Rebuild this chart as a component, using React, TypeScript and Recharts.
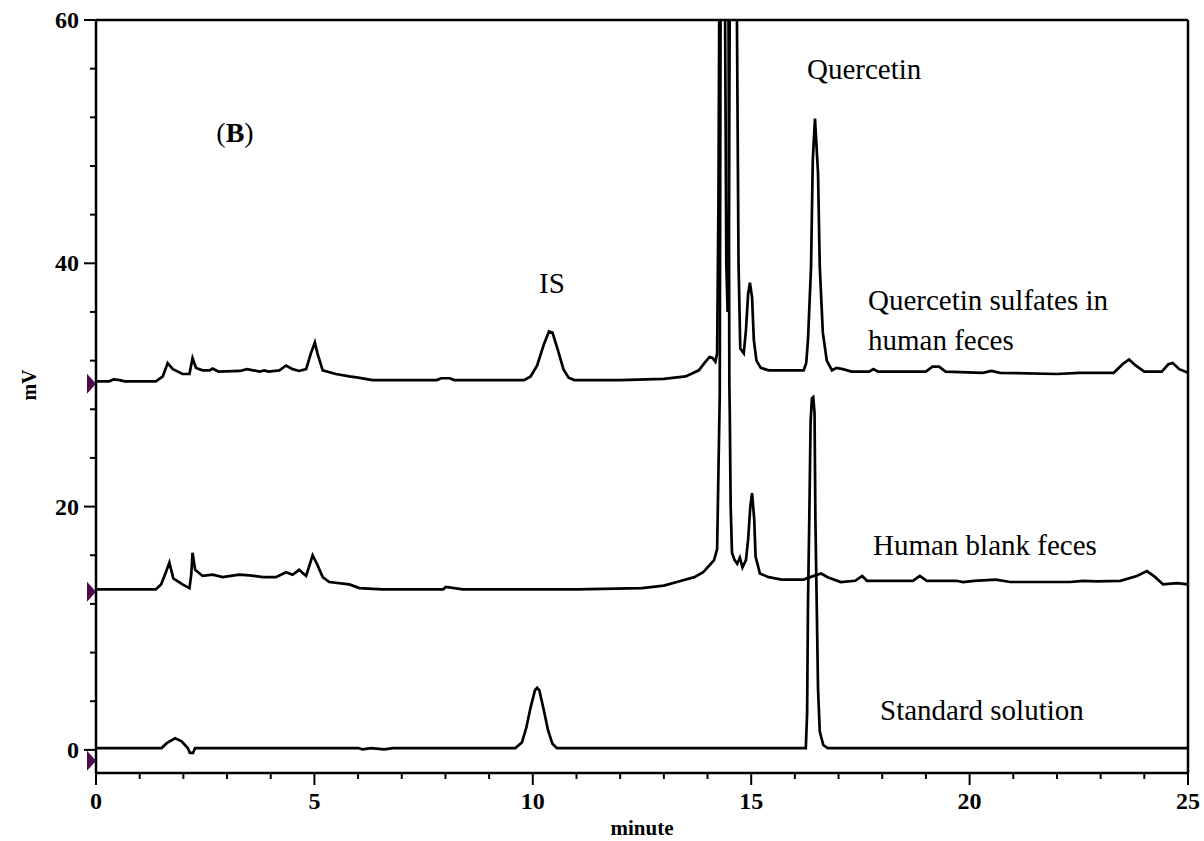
import React from "react";
import { LineChart, Line, XAxis, YAxis, ReferenceLine, ReferenceDot } from "recharts";

// Chromatogram traces, [retention time (min), signal (mV)]
const sulfateTrace: [number, number][] = [
  [0, 30.3], [0.3, 30.3], [0.4, 30.45], [0.55, 30.4], [0.65, 30.3], [1.37, 30.3], [1.53, 30.7],
  [1.64, 31.8], [1.76, 31.3], [1.98, 30.9], [2.14, 30.9], [2.21, 32.2], [2.29, 31.4], [2.44, 31.2],
  [2.6, 31.2], [2.67, 31.35], [2.8, 31.1], [3.3, 31.15], [3.45, 31.3], [3.6, 31.2], [3.75, 31.1],
  [3.85, 31.2], [3.95, 31.1], [4.2, 31.2], [4.35, 31.6], [4.5, 31.3], [4.65, 31.15], [4.81, 31.3],
  [4.92, 32.6], [5.01, 33.5], [5.07, 32.6], [5.19, 31.2], [5.49, 30.9], [5.8, 30.7], [6.0, 30.6],
  [6.33, 30.4], [7.8, 30.4], [7.9, 30.55], [8.1, 30.55], [8.2, 30.4], [9.8, 30.4], [9.95, 30.7],
  [10.1, 31.6], [10.25, 33.3], [10.37, 34.4], [10.45, 34.3], [10.58, 32.8], [10.7, 31.3],
  [10.82, 30.6], [10.95, 30.4], [12.0, 30.4], [13.0, 30.5], [13.5, 30.7], [13.8, 31.2],
  [13.95, 31.9], [14.05, 32.3], [14.12, 32.2], [14.18, 31.9], [14.22, 32.6], [14.25, 45],
  [14.27, 62], [14.4, 62], [14.43, 40], [14.46, 36], [14.49, 45], [14.51, 62], [14.67, 62],
  [14.71, 40], [14.75, 33], [14.83, 32.6], [14.88, 34.5], [14.93, 37.5], [14.97, 38.4],
  [15.02, 37.2], [15.06, 33.7], [15.12, 32.0], [15.22, 31.4], [15.4, 31.2], [16.2, 31.2],
  [16.26, 31.8], [16.3, 33.7], [16.37, 39.7], [16.41, 48.5], [16.46, 51.9], [16.53, 47.4],
  [16.57, 39.7], [16.64, 34.3], [16.73, 32.0], [16.85, 31.2], [16.95, 31.4], [17.1, 31.3],
  [17.3, 31.1], [17.7, 31.1], [17.8, 31.3], [17.9, 31.1], [19.0, 31.1], [19.15, 31.5],
  [19.3, 31.5], [19.45, 31.1], [20.3, 31.0], [20.5, 31.15], [20.7, 31.0], [22.0, 30.9],
  [22.5, 31.0], [23.3, 31.0], [23.5, 31.7], [23.65, 32.1], [23.8, 31.6], [24.0, 31.1],
  [24.4, 31.1], [24.55, 31.7], [24.65, 31.8], [24.8, 31.3], [25.0, 31.0],
];

const blankTrace: [number, number][] = [
  [0, 13.2], [1.37, 13.2], [1.49, 13.6], [1.6, 14.6], [1.68, 15.4], [1.77, 14.1], [1.98, 13.6],
  [2.14, 13.3], [2.18, 14.4], [2.21, 16.2], [2.27, 14.8], [2.44, 14.3], [2.67, 14.4], [2.9, 14.2],
  [3.28, 14.4], [3.51, 14.35], [3.82, 14.2], [4.12, 14.2], [4.35, 14.6], [4.5, 14.4], [4.65, 14.8],
  [4.81, 14.3], [4.96, 16.0], [5.07, 15.2], [5.19, 14.2], [5.34, 13.8], [5.8, 13.6], [6.03, 13.3],
  [6.56, 13.2], [7.95, 13.2], [8.01, 13.4], [8.4, 13.2], [11.0, 13.2], [12.5, 13.3], [13.0, 13.5],
  [13.4, 13.9], [13.7, 14.2], [13.9, 14.6], [14.05, 15.2], [14.15, 15.6], [14.22, 16.5],
  [14.26, 25], [14.28, 29.2], [14.3, 62], [14.48, 62], [14.5, 30], [14.51, 27.5],
  [14.53, 20], [14.56, 16.2], [14.62, 15.6], [14.68, 15.3], [14.74, 15.8],
  [14.8, 15.0], [14.88, 15.6], [14.93, 17.3], [14.98, 20.0], [15.02, 21.1], [15.07, 18.9],
  [15.1, 15.9], [15.2, 14.5], [15.4, 14.2], [15.7, 14.0], [16.2, 14.0], [16.35, 14.2],
  [16.6, 14.5], [16.75, 14.2], [17.05, 13.8], [17.38, 13.9], [17.54, 14.3], [17.65, 13.9],
  [18.7, 13.9], [18.86, 14.3], [19.02, 13.9], [19.7, 13.9], [19.85, 13.8], [20.1, 13.9],
  [20.6, 14.0], [20.93, 13.8], [22.3, 13.8], [22.6, 13.9], [22.9, 13.85], [23.45, 13.9],
  [23.83, 14.3], [24.06, 14.7], [24.25, 14.2], [24.43, 13.6], [24.75, 13.7], [25, 13.6],
];

const standardTrace: [number, number][] = [
  [0, 0.15], [1.5, 0.15], [1.62, 0.55], [1.81, 0.95], [1.96, 0.7], [2.1, 0.15], [2.15, -0.25],
  [2.22, -0.25], [2.27, 0.15], [6.0, 0.15], [6.1, 0.05], [6.3, 0.15], [6.6, 0.05], [6.8, 0.15],
  [9.6, 0.15], [9.75, 0.6], [9.85, 1.8], [9.95, 3.5], [10.05, 4.9], [10.1, 5.1], [10.15, 4.9],
  [10.25, 3.3], [10.35, 1.6], [10.45, 0.5], [10.55, 0.15], [16.25, 0.15], [16.28, 3],
  [16.3, 12], [16.33, 19], [16.36, 27.0], [16.39, 28.9], [16.42, 29.0], [16.45, 27.7],
  [16.47, 19], [16.5, 12], [16.53, 5], [16.57, 1.5], [16.65, 0.4], [16.75, 0.15], [25, 0.15],
];

// Injection markers at the left edge of each trace
const markerLevels = [30.1, 13.0, -0.9];

const xTicks = [0, 1, 2, 3, 4, 5, 6, 7, 8, 9, 10, 11, 12, 13, 14, 15, 16, 17, 18, 19, 20, 21, 22, 23, 24, 25];
const yTicks = [0, 4, 8, 12, 16, 20, 24, 28, 32, 36, 40, 44, 48, 52, 56, 60];

const toRows = (pts: [number, number][]) => pts.map(([t, v]) => ({ t, v }));

const SERIF = '"Liberation Serif", "Times New Roman", serif';

const YTick = (props: any) => {
  const { x, y, payload } = props;
  const v = payload.value;
  const major = v % 20 === 0;
  return (
    <g>
      <line x1={x - (major ? 12 : 6)} x2={x} y1={y} y2={y} stroke="#000" strokeWidth={2} />
      {major && (
        <text x={x - 17} y={y + 8} textAnchor="end" fontSize={24} fontWeight="bold" fontFamily={SERIF} fill="#000">
          {v}
        </text>
      )}
    </g>
  );
};

const XTick = (props: any) => {
  const { x, y, payload } = props;
  const v = payload.value;
  const major = v % 5 === 0;
  return (
    <g>
      <line x1={x} x2={x} y1={y} y2={y + (major ? 12 : 6)} stroke="#000" strokeWidth={2} />
      {major && (
        <text x={x} y={y + 36} textAnchor="middle" fontSize={24} fontWeight="bold" fontFamily={SERIF} fill="#000">
          {v}
        </text>
      )}
    </g>
  );
};

const Marker = (props: any) => {
  const { cx, cy } = props;
  return <polygon points={`${cx - 9},${cy - 10} ${cx},${cy} ${cx - 9},${cy + 10}`} fill="#4d0a4d" />;
};

const textStyle = { fontFamily: SERIF, fontSize: 29, fill: "#000" };

export default function App() {
  return (
    <div style={{ position: "absolute", left: 0, top: 0, width: 1204, height: 841, background: "#fff" }}>
      <LineChart width={1204} height={841} margin={{ top: 20, right: 16, bottom: 28, left: 0 }}>
        <XAxis
          dataKey="t"
          type="number"
          domain={[0, 25]}
          ticks={xTicks}
          interval={0}
          allowDataOverflow
          height={40}
          tickSize={0}
          tickMargin={0}
          tickLine={false}
          tick={<XTick />}
          axisLine={{ stroke: "#000", strokeWidth: 2.5 }}
        />
        <YAxis
          type="number"
          domain={[-1.9, 60]}
          ticks={yTicks}
          interval={0}
          allowDataOverflow
          width={96}
          tickSize={0}
          tickMargin={0}
          tickLine={false}
          tick={<YTick />}
          axisLine={{ stroke: "#000", strokeWidth: 2.5 }}
        />
        <ReferenceLine y={60} stroke="#000" strokeWidth={2.5} />
        <ReferenceLine x={25} stroke="#000" strokeWidth={2.5} />
        <Line data={toRows(standardTrace)} dataKey="v" type="linear" dot={false} stroke="#000" strokeWidth={2.7} isAnimationActive={false} />
        <Line data={toRows(blankTrace)} dataKey="v" type="linear" dot={false} stroke="#000" strokeWidth={2.7} isAnimationActive={false} />
        <Line data={toRows(sulfateTrace)} dataKey="v" type="linear" dot={false} stroke="#000" strokeWidth={2.7} isAnimationActive={false} />
        {markerLevels.map((lv) => (
          <ReferenceDot key={lv} x={0} y={lv} r={0} shape={<Marker />} ifOverflow="visible" />
        ))}
      </LineChart>
      <svg width={1204} height={841} style={{ position: "absolute", left: 0, top: 0, pointerEvents: "none" }}>
        <text x={235} y={142} textAnchor="middle" {...textStyle} fontSize={28}>
          (<tspan fontWeight="bold">B</tspan>)
        </text>
        <text x={552} y={293} textAnchor="middle" {...textStyle}>IS</text>
        <text x={807} y={79} {...textStyle}>Quercetin</text>
        <text x={868} y={310} {...textStyle}>Quercetin sulfates in</text>
        <text x={868} y={350} {...textStyle}>human feces</text>
        <text x={873} y={555} {...textStyle}>Human blank feces</text>
        <text x={880} y={720} {...textStyle}>Standard solution</text>
        <text x={642} y={835} textAnchor="middle" fontFamily={SERIF} fontSize={21} fontWeight="bold" fill="#000">minute</text>
        <text
          x={36}
          y={385}
          textAnchor="middle"
          fontFamily={SERIF}
          fontSize={20}
          fontWeight="bold"
          fill="#000"
          transform="rotate(-90 36 385)"
        >
          mV
        </text>
      </svg>
    </div>
  );
}
